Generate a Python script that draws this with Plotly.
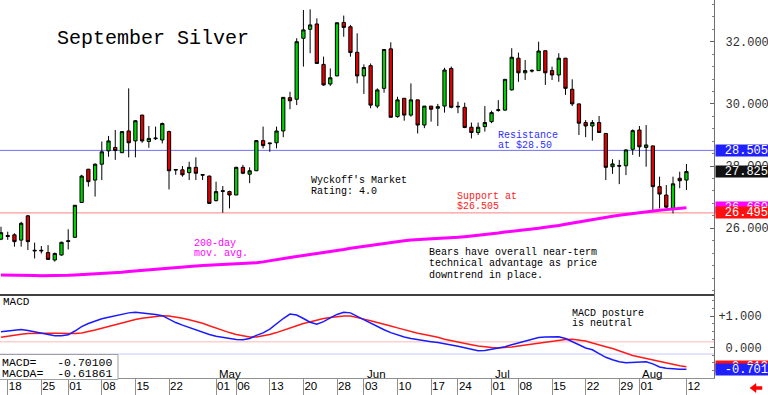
import plotly.graph_objects as go

# ---------------- data ----------------
dates = [
    "2024-03-15",
    "2024-03-18", "2024-03-19", "2024-03-20", "2024-03-21", "2024-03-22",
    "2024-03-25", "2024-03-26", "2024-03-27", "2024-03-28",
    "2024-04-01", "2024-04-02", "2024-04-03", "2024-04-04", "2024-04-05",
    "2024-04-08", "2024-04-09", "2024-04-10", "2024-04-11", "2024-04-12",
    "2024-04-15", "2024-04-16", "2024-04-17", "2024-04-18", "2024-04-19",
    "2024-04-22", "2024-04-23", "2024-04-24", "2024-04-25", "2024-04-26",
    "2024-04-29", "2024-04-30", "2024-05-01", "2024-05-02", "2024-05-03",
    "2024-05-06", "2024-05-07", "2024-05-08", "2024-05-09", "2024-05-10",
    "2024-05-13", "2024-05-14", "2024-05-15", "2024-05-16", "2024-05-17",
    "2024-05-20", "2024-05-21", "2024-05-22", "2024-05-23", "2024-05-24",
    "2024-05-28", "2024-05-29", "2024-05-30", "2024-05-31",
    "2024-06-03", "2024-06-04", "2024-06-05", "2024-06-06", "2024-06-07",
    "2024-06-10", "2024-06-11", "2024-06-12", "2024-06-13", "2024-06-14",
    "2024-06-17", "2024-06-18", "2024-06-20", "2024-06-21",
    "2024-06-24", "2024-06-25", "2024-06-26", "2024-06-27", "2024-06-28",
    "2024-07-01", "2024-07-02", "2024-07-03", "2024-07-05",
    "2024-07-08", "2024-07-09", "2024-07-10", "2024-07-11", "2024-07-12",
    "2024-07-15", "2024-07-16", "2024-07-17", "2024-07-18", "2024-07-19",
    "2024-07-22", "2024-07-23", "2024-07-24", "2024-07-25", "2024-07-26",
    "2024-07-29", "2024-07-30", "2024-07-31", "2024-08-01", "2024-08-02",
    "2024-08-05", "2024-08-06", "2024-08-07", "2024-08-08", "2024-08-09",
    "2024-08-12",
]

opens = [
    25.65,
    25.77, 25.79, 25.62, 26.40, 25.27,
    25.27, 25.22, 24.98, 25.14,
    25.60, 25.71, 26.83, 27.90, 27.55,
    28.06, 28.49, 28.60, 28.43, 29.13,
    28.81, 29.64, 28.79, 28.88, 28.84,
    29.11, 27.87, 27.88, 27.79, 27.96,
    27.73, 27.68, 26.89, 27.21, 27.18,
    27.07, 27.96, 27.74, 27.85, 28.82,
    28.72, 28.75, 29.13, 30.20, 30.15,
    32.11, 32.40, 32.57, 31.27, 30.64,
    30.90, 32.62, 32.48, 31.66,
    30.90, 31.23, 29.93, 30.50, 31.77,
    29.59, 30.18, 29.64, 30.13, 29.32,
    29.93, 29.86, 29.93, 31.14,
    29.90, 29.89, 29.25, 29.08, 29.27,
    29.43, 29.79, 29.80, 30.45,
    31.47, 31.00, 31.08, 31.07, 31.71,
    31.07, 30.93, 31.47, 30.47, 30.00,
    29.40, 29.29, 29.40, 29.05, 27.98,
    28.02, 28.01, 28.54, 29.16, 28.60,
    28.65, 27.34, 27.07, 26.64, 27.61,
    27.55,
]

highs = [
    26.05,
    25.89, 25.84, 26.21, 26.43, 25.54,
    25.43, 25.46, 25.22, 25.57,
    25.97, 26.75, 27.72, 27.91, 28.09,
    28.79, 28.97, 29.16, 29.12, 30.50,
    29.48, 29.65, 29.29, 29.27, 29.40,
    29.14, 27.89, 28.00, 28.14, 28.28,
    27.74, 27.69, 27.50, 27.36, 27.21,
    27.98, 28.04, 27.96, 28.84, 29.27,
    28.74, 29.27, 30.21, 30.39, 32.11,
    33.02, 33.04, 32.75, 31.52, 31.14,
    32.61, 32.84, 32.54, 32.27,
    31.27, 31.30, 30.50, 31.75, 31.98,
    30.23, 30.18, 30.66, 30.13, 29.93,
    29.93, 30.00, 31.16, 31.20,
    30.07, 30.04, 29.40, 29.40, 29.93,
    29.78, 30.12, 30.79, 31.79,
    31.65, 31.41, 31.11, 32.00, 31.72,
    31.20, 31.63, 31.48, 30.79, 30.01,
    29.48, 29.48, 29.61, 29.06, 28.22,
    28.20, 28.54, 29.18, 29.29, 29.32,
    28.66, 27.66, 27.39, 27.66, 27.82,
    28.07,
]

lows = [
    25.62,
    25.63, 25.41, 25.41, 25.30, 25.03,
    25.19, 24.98, 24.93, 25.12,
    25.32, 25.70, 26.83, 27.34, 27.02,
    27.55, 28.30, 28.20, 28.42, 28.28,
    28.28, 28.75, 28.59, 28.84, 28.73,
    27.25, 27.72, 27.66, 27.55, 27.55,
    27.55, 26.80, 26.86, 26.50, 26.64,
    27.07, 27.74, 27.45, 27.84, 28.57,
    28.46, 28.57, 28.93, 29.83, 29.96,
    31.20, 31.63, 31.30, 30.58, 30.58,
    30.89, 32.16, 31.52, 30.66,
    30.32, 29.86, 29.86, 30.36, 29.57,
    29.56, 29.46, 29.59, 29.05, 29.22,
    29.43, 29.29, 29.72, 29.86,
    29.70, 29.22, 28.89, 29.00, 29.11,
    29.38, 29.75, 29.78, 30.43,
    30.71, 30.77, 31.01, 31.06, 30.61,
    30.77, 30.71, 30.29, 29.93, 29.00,
    28.93, 28.82, 29.07, 27.55, 27.75,
    27.42, 27.71, 28.36, 28.30, 27.98,
    26.53, 26.64, 26.64, 26.48, 27.29,
    27.23,
]

closes = [
    25.86,
    25.74, 25.57, 26.16, 25.57, 25.29,
    25.29, 25.00, 25.19, 25.55,
    25.58, 26.74, 27.68, 27.50, 28.06,
    28.46, 28.81, 28.50, 29.11, 28.75,
    29.46, 28.81, 28.89, 28.90, 29.37,
    27.85, 27.89, 27.72, 27.96, 27.77,
    27.71, 26.80, 27.18, 27.19, 27.07,
    27.96, 27.77, 27.85, 28.82, 28.66,
    28.74, 29.13, 30.21, 30.10, 32.00,
    32.38, 32.54, 31.30, 30.61, 30.84,
    32.61, 32.46, 31.65, 30.90,
    31.17, 29.96, 30.45, 31.75, 29.57,
    30.13, 29.64, 30.13, 29.32, 29.93,
    29.83, 29.91, 31.09, 29.89,
    29.92, 29.24, 29.08, 29.25, 29.40,
    29.72, 29.81, 30.79, 31.50,
    31.00, 31.07, 31.06, 31.70, 31.00,
    30.93, 31.47, 30.50, 30.00, 29.38,
    29.29, 29.40, 29.08, 27.96, 28.07,
    28.00, 28.52, 29.14, 28.62, 28.68,
    27.34, 27.10, 26.68, 27.43, 27.53,
    27.825,
]

ma200 = [
    24.50, 24.50, 24.49, 24.49, 24.48, 24.48, 24.47, 24.47,
    24.47, 24.48, 24.49, 24.50, 24.51, 24.52, 24.53, 24.54,
    24.55, 24.57, 24.59, 24.61, 24.63, 24.65, 24.67, 24.69,
    24.71, 24.73, 24.75, 24.77, 24.78, 24.79, 24.80, 24.81,
    24.82, 24.84, 24.85, 24.86, 24.87, 24.88, 24.89,
    24.92, 24.96, 24.99, 25.02, 25.06, 25.09, 25.12, 25.16, 25.19, 25.22,
    25.26, 25.29, 25.32, 25.36, 25.39, 25.42, 25.46, 25.49, 25.52, 25.56, 25.59,
    25.60, 25.62, 25.63, 25.64, 25.66, 25.67, 25.69, 25.70, 25.71, 25.73,
    25.75, 25.78, 25.80, 25.83, 25.85, 25.88, 25.90, 25.93, 25.95, 25.98,
    26.00, 26.03, 26.05,
    26.09, 26.13, 26.17, 26.21, 26.25, 26.29, 26.33,
    26.36, 26.39, 26.42, 26.45, 26.48, 26.50, 26.53, 26.56,
    26.58, 26.60, 26.62, 26.64, 26.66,
]

macd = [
    0.50, 0.53, 0.56, 0.57, 0.54, 0.50, 0.47, 0.42, 0.37, 0.37,
    0.40, 0.52, 0.66, 0.76, 0.84, 0.91, 0.96, 1.01, 1.06, 1.10,
    1.12, 1.10, 1.08, 1.05, 1.01, 0.89, 0.79, 0.71, 0.63, 0.56,
    0.49, 0.41, 0.35, 0.31, 0.27, 0.25, 0.24, 0.28, 0.38, 0.46,
    0.58, 0.75, 0.92, 1.06, 1.03, 0.92, 0.80, 0.74, 0.82, 0.94,
    1.05, 1.12, 1.10, 0.99, 0.88, 0.78, 0.66, 0.56, 0.47, 0.39,
    0.33, 0.28, 0.24, 0.21, 0.18, 0.15, 0.12, 0.07, 0.03, -0.02,
    -0.07, -0.11, -0.10, -0.06, -0.03, 0.02, 0.08, 0.14, 0.20, 0.26,
    0.31, 0.33, 0.34, 0.34, 0.28, 0.19, 0.08, -0.02, -0.08, -0.20,
    -0.32, -0.40, -0.46, -0.49, -0.48, -0.47, -0.46, -0.53, -0.63, -0.67,
    -0.69, -0.70, -0.701,
]

macd_avg = [
    0.32, 0.36, 0.40, 0.42, 0.44, 0.45, 0.45, 0.45, 0.45, 0.44,
    0.43, 0.44, 0.46, 0.50, 0.55, 0.61, 0.67, 0.73, 0.79, 0.84,
    0.89, 0.93, 0.96, 0.99, 1.01, 1.00, 0.97, 0.93, 0.88, 0.83,
    0.77, 0.69, 0.61, 0.54, 0.47, 0.41, 0.36, 0.33, 0.33, 0.36,
    0.41, 0.47, 0.55, 0.62, 0.69, 0.76, 0.82, 0.87, 0.92, 0.95,
    0.98, 1.00, 1.00, 0.96, 0.90, 0.85, 0.80, 0.74, 0.68, 0.62,
    0.56, 0.50, 0.45, 0.41, 0.37, 0.32, 0.26, 0.21, 0.17, 0.12,
    0.08, 0.04, 0.01, -0.01, -0.02, -0.01, 0.01, 0.04, 0.07, 0.10,
    0.14, 0.17, 0.20, 0.23, 0.25, 0.26, 0.24, 0.20, 0.14, 0.07,
    0.02, -0.04, -0.12, -0.20, -0.26, -0.31, -0.36, -0.41, -0.45, -0.50,
    -0.55, -0.59, -0.619,
]

tick_dates = ["2024-03-18", "2024-03-25", "2024-04-01", "2024-04-08", "2024-04-15",
              "2024-04-22", "2024-05-01", "2024-05-06", "2024-05-13", "2024-05-20",
              "2024-05-28", "2024-06-03", "2024-06-10", "2024-06-17", "2024-06-24",
              "2024-07-01", "2024-07-08", "2024-07-15", "2024-07-22", "2024-07-29",
              "2024-08-01", "2024-08-12"]
tick_labels = ["18", "25", "01", "08", "15", "22", "01", "06", "13", "20", "28",
               "03", "10", "17", "24", "01", "08", "15", "22", "29", "01", "12"]
month_dates = ["2024-05-01", "2024-06-03", "2024-07-01", "2024-08-01"]
month_labels = ["May", "Jun", "Jul", "Aug"]

price_ticks = [26, 28, 30, 32]
macd_ticks = [1, 0]
resistance = 28.505
support = 26.495
ma_last = 26.660
last_close = 27.825
macd_value = -0.70100
macda_value = -0.61861
macd_box = -0.701
macda_box = -0.619
macd_ref_hi = 0.18
macd_ref_lo = -0.216

# ---------------- layout helpers ----------------
W_PLOT = 714.0
H_PLOT = 378.0
SPLIT = 295.0


def px(x):
    return x / W_PLOT


def py(y):
    return 1 - y / H_PLOT


MONO = "Liberation Mono, DejaVu Sans Mono, monospace"
SANS = "Liberation Sans, Arial, sans-serif"

fig = go.Figure()

fig.add_trace(go.Candlestick(
    x=dates, open=opens, high=highs, low=lows, close=closes,
    xaxis="x", yaxis="y",
    increasing=dict(fillcolor="#00d000", line=dict(color="#000000", width=1)),
    decreasing=dict(fillcolor="#e00000", line=dict(color="#000000", width=1)),
    whiskerwidth=0, showlegend=False, hoverinfo="skip",
))

fig.add_trace(go.Scatter(
    x=dates, y=ma200, mode="lines", xaxis="x", yaxis="y",
    line=dict(color="#ff00ff", width=3), showlegend=False, hoverinfo="skip",
))

fig.add_trace(go.Scatter(
    x=dates, y=macd_avg, mode="lines", xaxis="x", yaxis="y2",
    line=dict(color="#ff1a1a", width=1.5), showlegend=False, hoverinfo="skip",
))
fig.add_trace(go.Scatter(
    x=dates, y=macd, mode="lines", xaxis="x", yaxis="y2",
    line=dict(color="#1a1aff", width=1.5), showlegend=False, hoverinfo="skip",
))

shapes = [
    dict(type="line", xref="paper", x0=0, x1=1, yref="y", y0=resistance, y1=resistance,
         line=dict(color="#7070ff", width=1), layer="below"),
    dict(type="line", xref="paper", x0=0, x1=1, yref="y", y0=support, y1=support,
         line=dict(color="#ff8080", width=1), layer="below"),
    dict(type="line", xref="paper", x0=0, x1=1, yref="y2", y0=macd_ref_hi, y1=macd_ref_hi,
         line=dict(color="#ffd0d0", width=1.5), layer="below"),
    dict(type="line", xref="paper", x0=0, x1=1, yref="y2", y0=macd_ref_lo, y1=macd_ref_lo,
         line=dict(color="#c8c8ff", width=1), layer="below"),
    dict(type="line", xref="paper", x0=0, x1=1, yref="paper", y0=py(SPLIT), y1=py(SPLIT),
         line=dict(color="#000000", width=1.5)),
    dict(type="rect", xref="paper", yref="paper", x0=px(-2), x1=px(118), y0=py(379.5), y1=py(354.5),
         fillcolor="#ffffff", line=dict(color="#a0a0a0", width=1), layer="above"),
    dict(type="path", xref="paper", yref="paper",
         path=(f"M {px(750)} {py(388)} L {px(756)} {py(383.5)} L {px(756)} {py(386.5)} "
               f"L {px(762)} {py(386.5)} L {px(762)} {py(389.5)} L {px(756)} {py(389.5)} "
               f"L {px(756)} {py(392.5)} Z"),
         fillcolor="#ff0000", line=dict(color="#ff0000", width=0.5)),
]

annotations = []


def text(t, x, y, color="#000000", size=10, font=MONO):
    annotations.append(dict(
        text=t, xref="paper", yref="paper", x=px(x), y=py(y),
        xanchor="left", yanchor="middle", showarrow=False,
        font=dict(family=font, size=size, color=color), borderpad=0,
    ))


text("September Silver", 56, 39, size=20)
text("Wyckoff's Market", 310, 180)
text("Rating: 4.0", 310, 191)
text("Resistance", 497, 135, color="#3030ff")
text("at $28.50", 497, 145, color="#3030ff")
text("Support at", 456, 196, color="#ff2020")
text("$26.505", 456, 206, color="#ff2020")
text("200-day", 193, 243, color="#ff00ff")
text("mov. avg.", 193, 253, color="#ff00ff")
text("Bears have overall near-term", 428, 252)
text("technical advantage as price", 428, 263.5)
text("downtrend in place.", 428, 275)
text("MACD posture", 571, 313)
text("is neutral", 571, 323.5)
text("MACD", 2, 302, size=11)
text(f"MACD=   {macd_value:.5f}", 1, 362, size=11.5)
text(f"MACDA=  {macda_value:.5f}", 1, 373, size=11.5)

for d, lab in zip(month_dates, month_labels):
    annotations.append(dict(
        text=lab, xref="x", yref="paper", x=dates.index(d), y=py(373.5),
        xanchor="left", yanchor="middle", xshift=1, showarrow=False,
        font=dict(family=SANS, size=11.5, color="#000000"),
    ))


def value_box(val, yref, bg, fmt="{:.3f}"):
    annotations.append(dict(
        text=fmt.format(val), xref="paper", x=px(715), xanchor="left",
        yref=yref, y=val, yanchor="middle", showarrow=False,
        bgcolor=bg, width=52, height=11, align="right", borderpad=0,
        font=dict(family=MONO, size=12, color="#ffffff"),
    ))


value_box(resistance, "y", "#2020ff")
value_box(last_close, "y", "#111111")
value_box(ma_last, "y", "#ff00ff")
value_box(support, "y", "#ff1010")
value_box(macda_box, "y2", "#ff1010")
value_box(macd_box, "y2", "#2020ff")

axis_common = dict(
    side="right", anchor="x", showgrid=False, zeroline=False,
    showline=True, linecolor="#707070", linewidth=1,
    ticks="inside", ticklen=4, tickcolor="#606060",
    tickfont=dict(family=MONO, size=12, color="#303030"),
    ticklabelstandoff=1, fixedrange=True,
)

fig.update_layout(
    width=768, height=395,
    margin=dict(l=0, r=768 - W_PLOT, t=0, b=395 - H_PLOT),
    paper_bgcolor="#ffffff", plot_bgcolor="#ffffff",
    showlegend=False,
    xaxis=dict(
        type="category", anchor="y2", domain=[0, 1],
        range=[-0.15, 106.1], rangeslider=dict(visible=False),
        tickmode="array", tickvals=tick_dates, ticktext=tick_labels,
        tickangle=0,
        ticks="outside", ticklen=17, tickcolor="#909090", tickwidth=1,
        ticklabelposition="outside right", ticklabelstandoff=-3,
        tickfont=dict(family=SANS, size=11.5, color="#000000"),
        showline=True, linecolor="#909090", linewidth=1,
        showgrid=False, zeroline=False, fixedrange=True,
    ),
    yaxis=dict(
        domain=[py(SPLIT), 1], range=[23.855, 33.341],
        tickmode="array", tickvals=price_ticks,
        ticktext=["\u00a0" + f"{v:.3f}" for v in price_ticks],
        minor=dict(ticks="inside", ticklen=2, tickcolor="#808080", dtick=0.4, tick0=0),
        **axis_common,
    ),
    yaxis2=dict(
        domain=[0, py(SPLIT)], range=[-0.981, 1.671],
        tickmode="array", tickvals=macd_ticks,
        ticktext=["+1.000", "\u00a00.000"],
        minor=dict(ticks="inside", ticklen=2, tickcolor="#808080", dtick=0.25, tick0=0),
        **axis_common,
    ),
    shapes=shapes,
    annotations=annotations,
)

fig.write_html(
    "out.html",
    config={"displayModeBar": False},
    post_script=("document.documentElement.style.margin='0';"
                 "document.body.style.margin='0';document.body.style.padding='0';"
                 "document.body.style.overflow='hidden';"),
)
